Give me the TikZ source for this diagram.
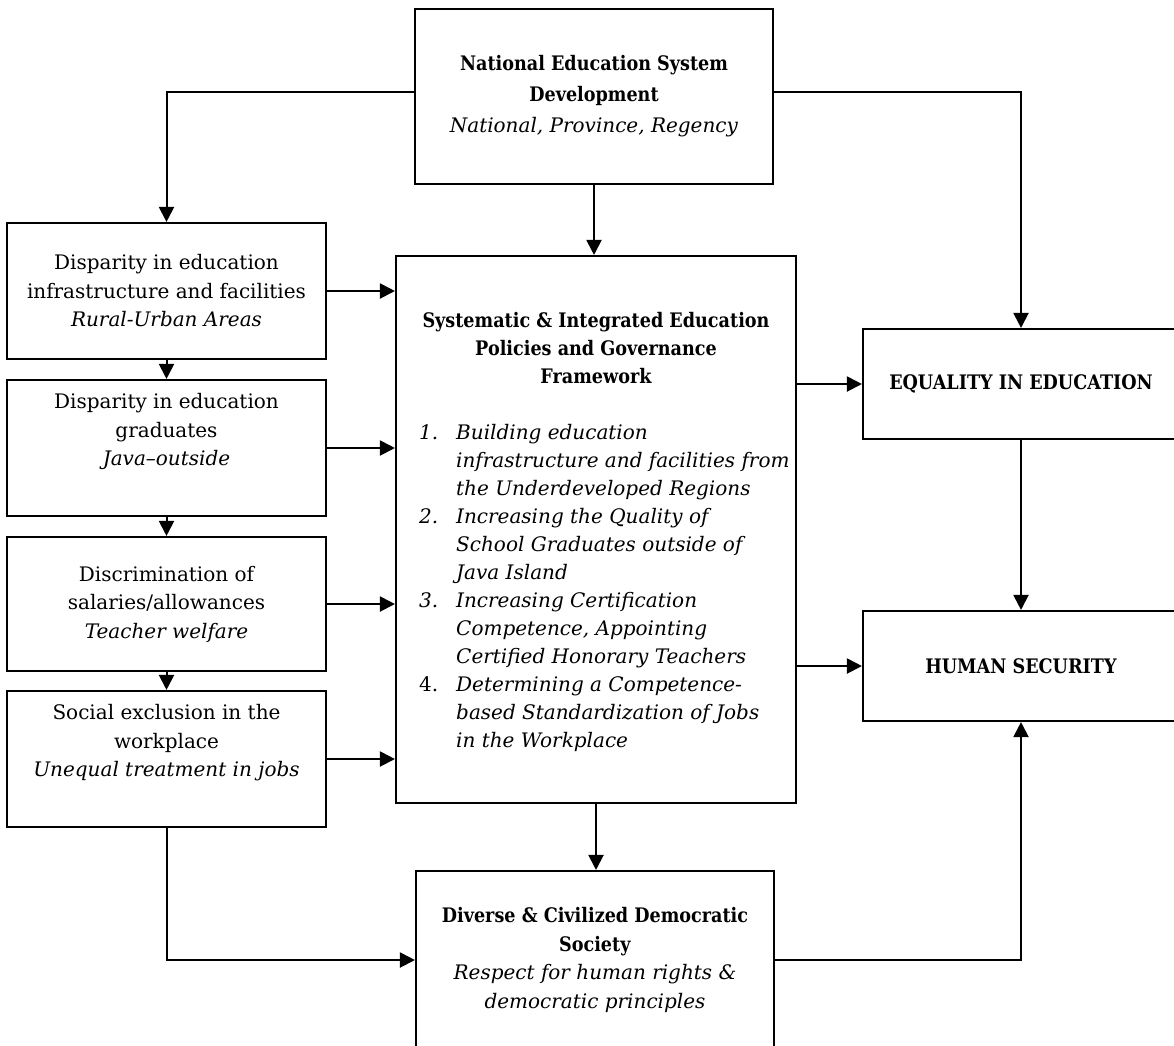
\documentclass[tikz,border=0pt]{standalone}
\usepackage{fontspec}
\setmainfont{DejaVu Serif}[BoldFeatures={FakeStretch=0.88}]
\usepackage{tikz}
\usetikzlibrary{arrows.meta}

\begin{document}
\begin{tikzpicture}[x=1pt, y=-1pt,
	box/.style={draw=black, line width=2.1pt, inner sep=0pt, align=center, font=\fontsize{20}{28.5}\selectfont},
	arr/.style={-{Triangle[length=15pt,width=15pt]}, line width=2pt},
	txt/.style={inner sep=0pt, font=\fontsize{20}{28}\selectfont}]
	
	\useasboundingbox (0, 0) rectangle (1174, 1045);
	
	\node[box, minimum width=358pt, minimum height=175pt, font=\fontsize{20}{31}\selectfont] (nesd) at (594, 96.5) {\textbf{National Education System}\\\textbf{Development}\\\textit{National, Province, Regency}};
	\node[box, minimum width=400pt, minimum height=547pt] (sys) at (596, 529.5) {};
	\node[txt, align=center, font=\fontsize{20}{28}\selectfont\bfseries] (systitle) at (596, 348) {Systematic \& Integrated Education\\Policies and Governance\\Framework};
	\node[txt, align=left, anchor=north west] (plist) at (419, 424) {%
		\makebox[37pt][l]{\textit{1.}}\textit{Building education}\\
		\hspace*{37pt}\textit{infrastructure and facilities from}\\
		\hspace*{37pt}\textit{the Underdeveloped Regions}\\
		\makebox[37pt][l]{\textit{2.}}\textit{Increasing the Quality of}\\
		\hspace*{37pt}\textit{School Graduates outside of}\\
		\hspace*{37pt}\textit{Java Island}\\
		\makebox[37pt][l]{\textit{3.}}\textit{Increasing Certification}\\
		\hspace*{37pt}\textit{Competence, Appointing}\\
		\hspace*{37pt}\textit{Certified Honorary Teachers}\\
		\makebox[37pt][l]{4.}\textit{Determining a Competence-}\\
		\hspace*{37pt}\textit{based Standardization of Jobs}\\
		\hspace*{37pt}\textit{in the Workplace}};
	
	\node[box, minimum width=319pt, minimum height=136pt] (gapa) at (166.5, 291) {Disparity in education\\infrastructure and facilities\\\textit{Rural-Urban Areas}};
	\node[box, minimum width=319pt, minimum height=136pt] (gapb) at (166.5, 448) {Disparity in education\\graduates\\\textit{Java–outside}\\\strut};
	\node[box, minimum width=319pt, minimum height=134pt] (disc) at (166.5, 604) {Discrimination of\\salaries/allowances\\\textit{Teacher welfare}};
	\node[box, minimum width=319pt, minimum height=136pt] (excl) at (166.5, 759) {Social exclusion in the\\workplace\\\textit{Unequal treatment in jobs}\\\strut};
	
	\node[box, minimum width=316pt, minimum height=110pt] (equal) at (1021, 384) {\textbf{EQUALITY IN EDUCATION}};
	\node[box, minimum width=316pt, minimum height=110pt] (hsec) at (1021, 666) {\textbf{HUMAN SECURITY}};
	
	\node[box, minimum width=358pt, minimum height=178pt] (demo) at (595, 960) {\textbf{Diverse \& Civilized Democratic}\\\textbf{Society}\\\textit{Respect for human rights \&}\\\textit{democratic principles}};
	
	\draw[arr] ([yshift=5pt]nesd.west) -| (gapa.north);
	\draw[arr] ([yshift=5pt]nesd.east) -| (equal.north);
	\draw[arr] (nesd.south) -- (nesd.south |- sys.north);
	
	\path[arr] (gapa.south) edge (gapb.north);
	\path[arr] (gapb.south) edge (disc.north);
	\path[arr] (disc.south) edge (excl.north);
	
	\draw[arr] (gapa.east) -- (gapa.east -| sys.west);
	\draw[arr] (gapb.east) -- (gapb.east -| sys.west);
	\draw[arr] (disc.east) -- (disc.east -| sys.west);
	\draw[arr] (excl.east) -- (excl.east -| sys.west);
	
	\draw[arr] (sys.east |- equal.west) -- (equal.west);
	\draw[arr] (sys.east |- hsec.west) -- (hsec.west);
	\path[arr] (equal.south) edge (hsec.north);
	
	\draw[arr] (sys.south) -- (sys.south |- demo.north);
	\draw[arr] (excl.south) |- (demo.west);
	\draw[arr] (demo.east) -| (hsec.south);
	
\end{tikzpicture}
\end{document}
